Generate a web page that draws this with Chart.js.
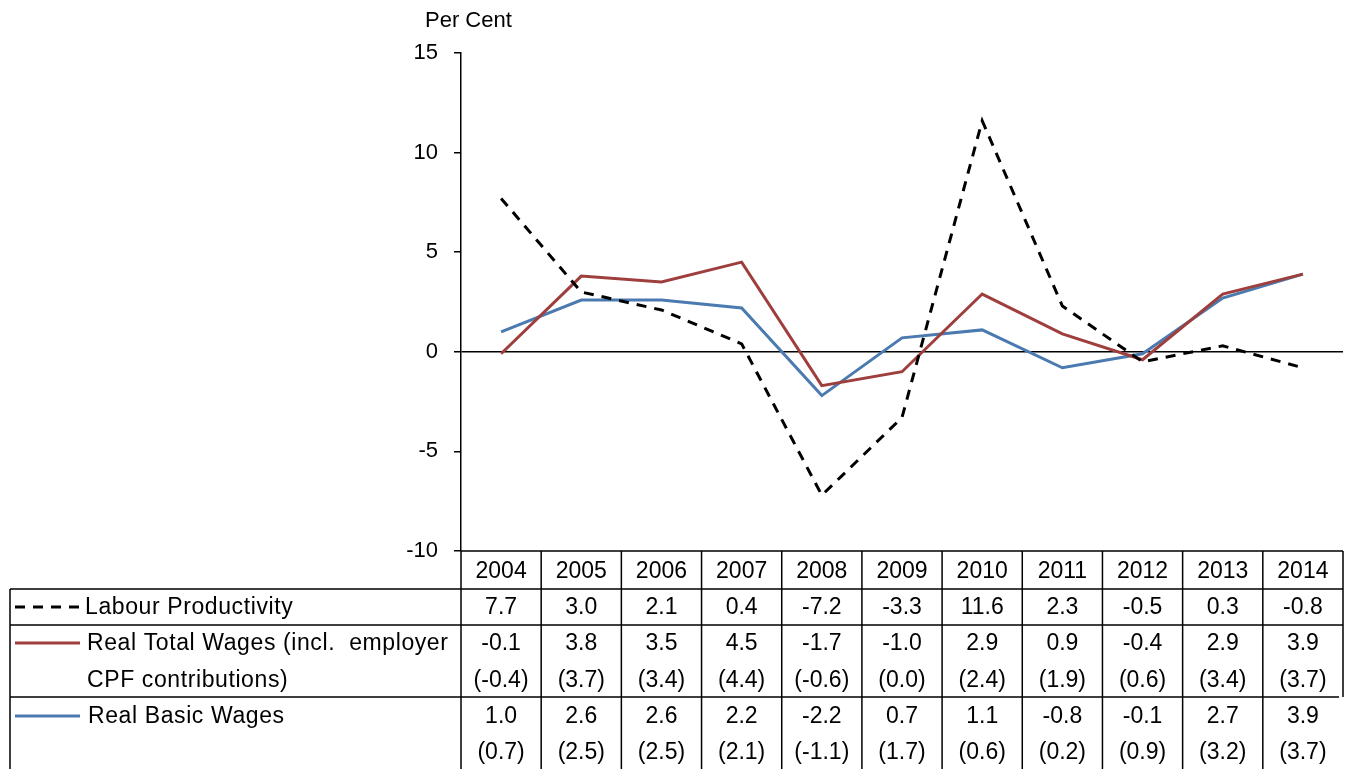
<!DOCTYPE html>
<html>
<head>
<meta charset="utf-8">
<style>
  html, body { margin: 0; padding: 0; background: #fff; }
  #wrap { width: 1350px; height: 769px; position: relative; }
</style>
<script src="https://cdn.jsdelivr.net/npm/chart.js@4/dist/chart.umd.min.js"></script>
</head>
<body>
<div id="wrap"><canvas id="wageChart"></canvas></div>
<script>
// Data
const years = ['2004', '2005', '2006', '2007', '2008', '2009', '2010', '2011', '2012', '2013', '2014'];
const labourProductivity = [7.7, 3.0, 2.1, 0.4, -7.2, -3.3, 11.6, 2.3, -0.5, 0.3, -0.8];
const realTotalWages = [-0.1, 3.8, 3.5, 4.5, -1.7, -1.0, 2.9, 0.9, -0.4, 2.9, 3.9];
const realTotalWagesExcl = [-0.4, 3.7, 3.4, 4.4, -0.6, 0.0, 2.4, 1.9, 0.6, 3.4, 3.7];
const realBasicWages = [1.0, 2.6, 2.6, 2.2, -2.2, 0.7, 1.1, -0.8, -0.1, 2.7, 3.9];
const realBasicWagesExcl = [0.7, 2.5, 2.5, 2.1, -1.1, 1.7, 0.6, 0.2, 0.9, 3.2, 3.7];
const yTicks = [-10, -5, 0, 5, 10, 15];

const RED = '#9E3F3D';
const BLUE = '#4A7AB0';
const FONT = '"Liberation Sans", Arial, sans-serif';

const fmt = v => v.toFixed(1);
const paren = v => '(' + v.toFixed(1) + ')';

// draws the data table underneath the plot, aligned to the x scale
const tablePlugin = {
  id: 'dataTable',
  afterDraw(chart) {
    const ctx = chart.ctx;
    const x = chart.scales.x;
    const area = chart.chartArea;
    const step = x.getPixelForValue(1) - x.getPixelForValue(0);
    const colLeft = x.getPixelForValue(0) - step / 2;
    const colRight = x.getPixelForValue(years.length - 1) + step / 2;
    const tableLeft = 10;
    const rows = [area.bottom, 589, 625, 697, 769];

    ctx.save();
    ctx.strokeStyle = '#000';
    ctx.lineWidth = 1.5;

    // horizontal lines
    ctx.beginPath();
    ctx.moveTo(colLeft, rows[0]); ctx.lineTo(colRight, rows[0]);
    ctx.moveTo(tableLeft, rows[1]); ctx.lineTo(colRight, rows[1]);
    ctx.moveTo(tableLeft, rows[2]); ctx.lineTo(colRight, rows[2]);
    ctx.moveTo(tableLeft, rows[3]); ctx.lineTo(colRight - 4, rows[3]);
    ctx.stroke();

    // vertical lines
    ctx.beginPath();
    ctx.moveTo(tableLeft, rows[1]); ctx.lineTo(tableLeft, 769);
    for (let i = 0; i < years.length; i++) {
      const xl = x.getPixelForValue(i) - step / 2;
      ctx.moveTo(xl, rows[0]); ctx.lineTo(xl, 769);
    }
    ctx.moveTo(colRight, rows[0]); ctx.lineTo(colRight, rows[3]);
    ctx.stroke();

    // cell values
    ctx.fillStyle = '#000';
    ctx.font = '23px ' + FONT;
    ctx.textAlign = 'center';
    ctx.textBaseline = 'middle';
    years.forEach((yr, i) => {
      const cx = x.getPixelForValue(i);
      ctx.fillText(yr, cx, 572);
      ctx.fillText(fmt(labourProductivity[i]), cx, 608);
      ctx.fillText(fmt(realTotalWages[i]), cx, 644);
      ctx.fillText(paren(realTotalWagesExcl[i]), cx, 681);
      ctx.fillText(fmt(realBasicWages[i]), cx, 717);
      ctx.fillText(paren(realBasicWagesExcl[i]), cx, 753);
    });

    // legend keys
    ctx.lineWidth = 3;
    ctx.setLineDash([10, 8]);
    ctx.beginPath(); ctx.moveTo(15, 607); ctx.lineTo(82, 607); ctx.stroke();
    ctx.setLineDash([]);
    ctx.strokeStyle = RED;
    ctx.beginPath(); ctx.moveTo(15, 643); ctx.lineTo(80, 643); ctx.stroke();
    ctx.strokeStyle = BLUE;
    ctx.beginPath(); ctx.moveTo(15, 716); ctx.lineTo(80, 716); ctx.stroke();

    ctx.textAlign = 'left';
    ctx.letterSpacing = '0.6px';
    ctx.fillText('Labour Productivity', 85, 608);
    ctx.fillText('Real Total Wages (incl.  employer', 87, 644);
    ctx.fillText('CPF contributions)', 87, 681);
    ctx.fillText('Real Basic Wages', 88, 717);
    ctx.letterSpacing = '0px';

    // axis title
    ctx.font = '22px ' + FONT;
    ctx.fillText('Per Cent', 425, 21);
    ctx.restore();
  }
};

new Chart(document.getElementById('wageChart'), {
  type: 'line',
  data: {
    labels: years,
    datasets: [{
        label: 'Labour Productivity',
        data: labourProductivity,
        borderColor: '#000',
        borderWidth: 3,
        borderDash: [10, 8],
        pointRadius: 0,
        tension: 0
      },
      {
        label: 'Real Total Wages (incl. employer CPF contributions)',
        data: realTotalWages,
        borderColor: RED,
        borderWidth: 3,
        pointRadius: 0,
        tension: 0
      },
      {
        label: 'Real Basic Wages',
        data: realBasicWages,
        borderColor: BLUE,
        borderWidth: 3,
        pointRadius: 0,
        tension: 0
      }
    ]
  },
  options: {
    responsive: true,
    maintainAspectRatio: false,
    animation: false,
    layout: {
      padding: { top: 53, right: 7, bottom: 218, left: 0 }
    },
    scales: {
      x: {
        display: false,
        offset: true
      },
      y: {
        min: -10,
        max: 15,
        afterFit: scale => { scale.width = 461; },
        afterBuildTicks: scale => { scale.ticks = yTicks.map(v => ({ value: v })); },
        ticks: {
          padding: 16,
          color: '#000',
          font: { family: FONT, size: 22 }
        },
        border: { display: true, color: '#000', width: 1.5 },
        grid: {
          color: c => c.tick && c.tick.value === 0 ? '#000' : 'rgba(0,0,0,0)',
          tickColor: '#000',
          tickLength: 7,
          lineWidth: 1.5
        }
      }
    },
    plugins: {
      legend: { display: false },
      tooltip: { enabled: false }
    }
  },
  plugins: [tablePlugin]
});
</script>
</body>
</html>
